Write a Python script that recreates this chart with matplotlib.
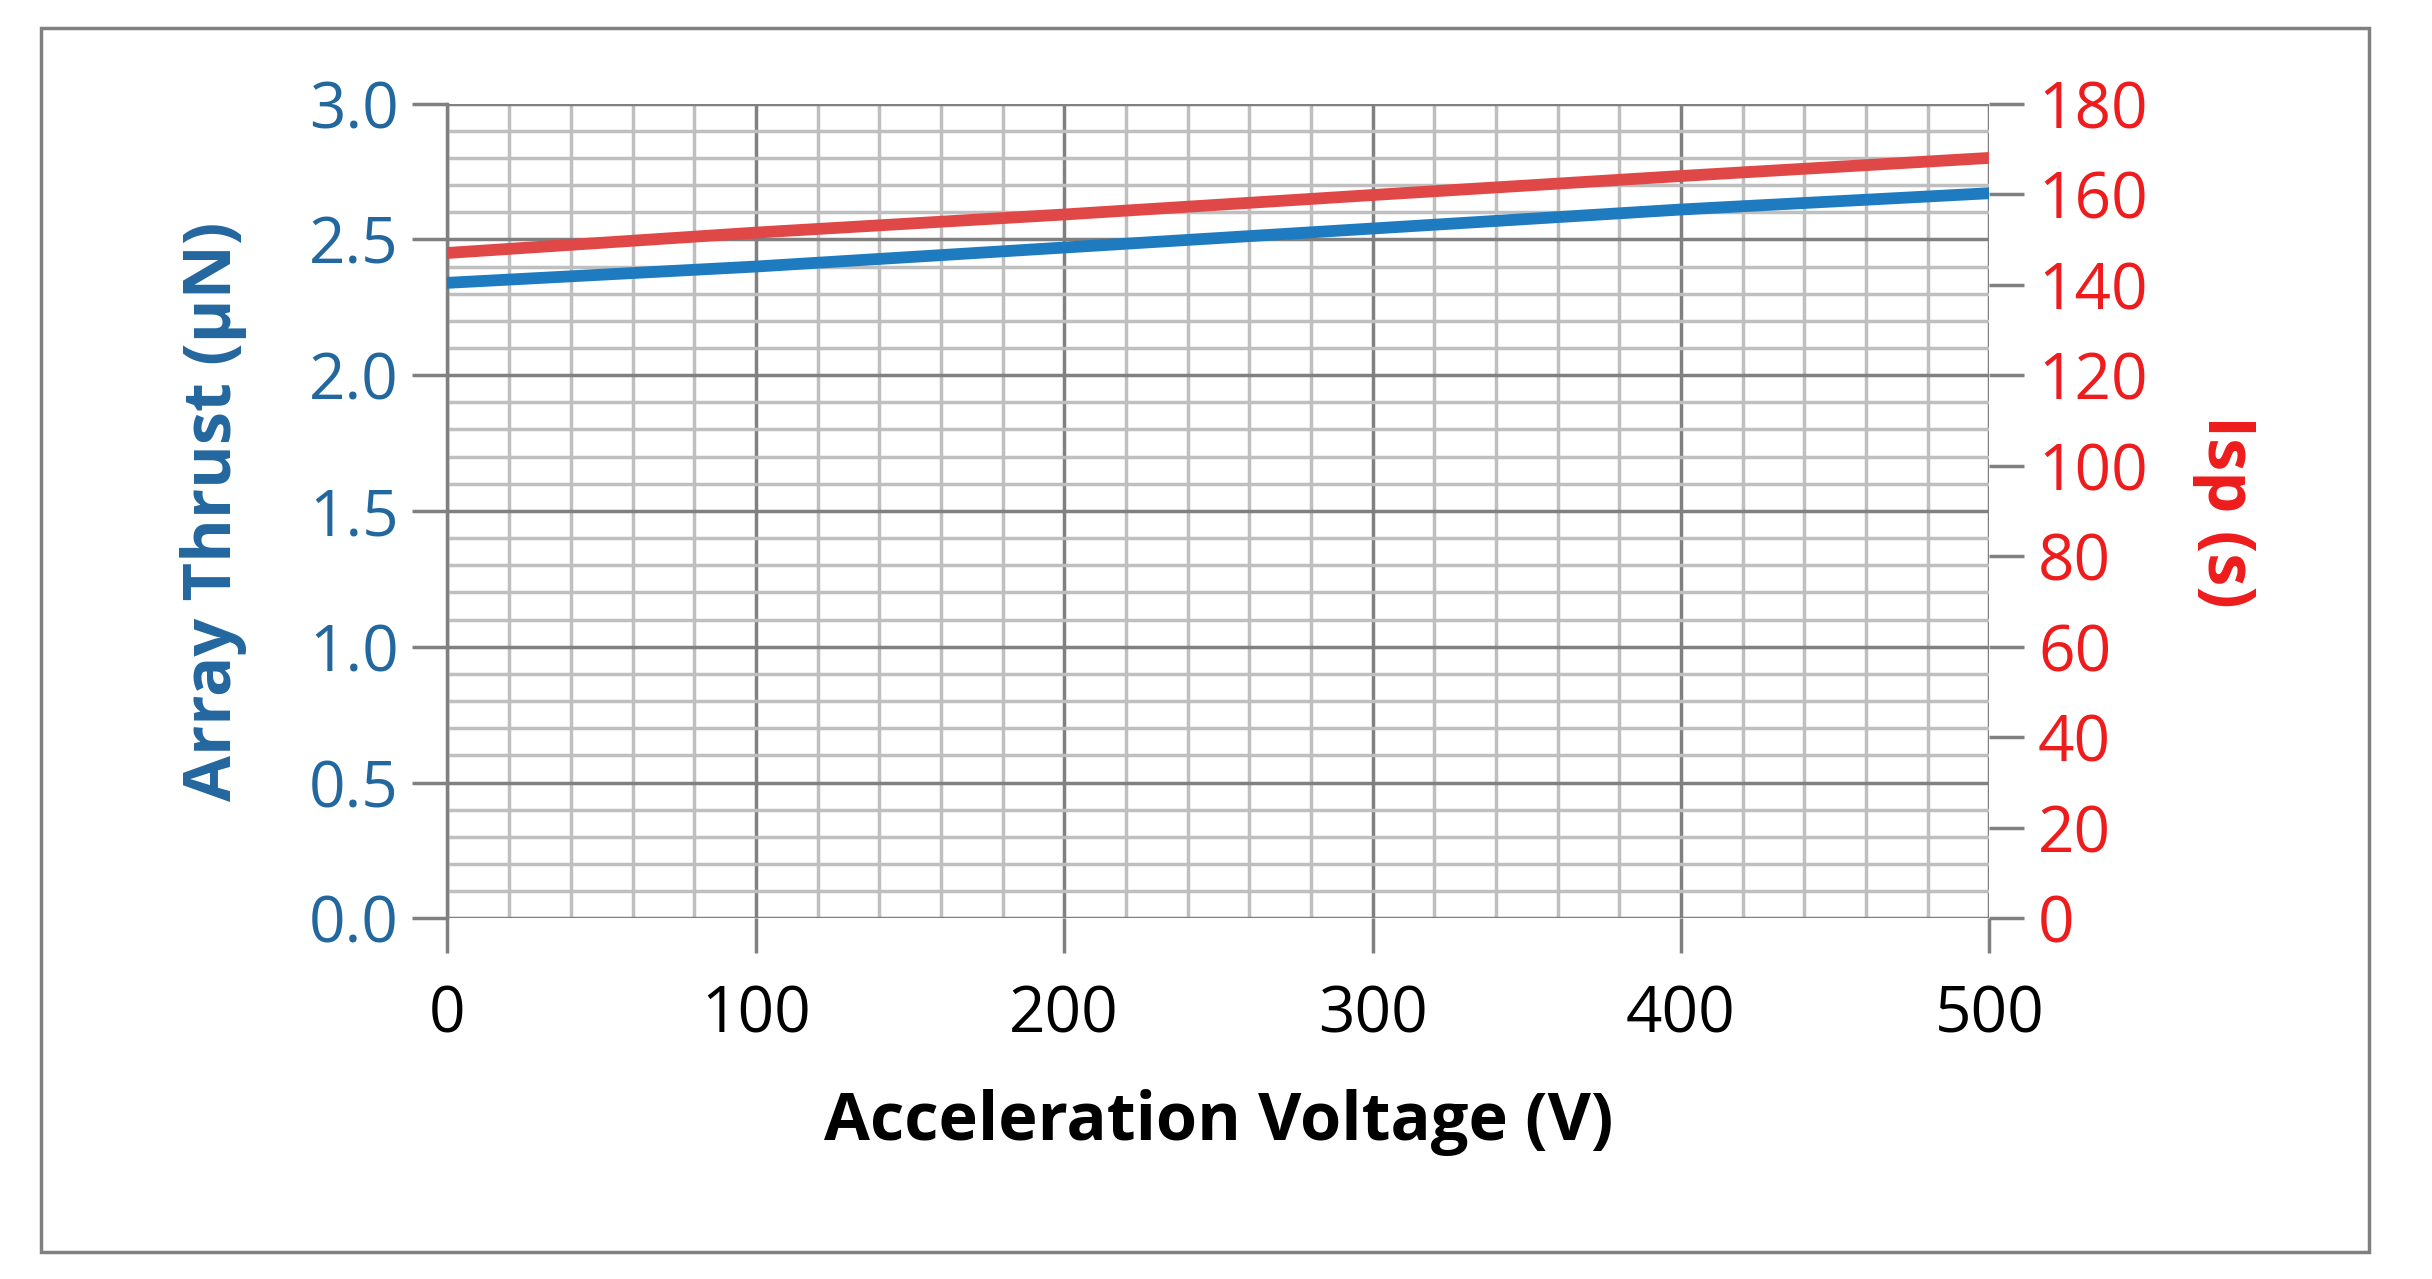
import matplotlib
matplotlib.use("Agg")
import matplotlib.pyplot as plt
from matplotlib.ticker import MultipleLocator
from matplotlib.patches import Rectangle

voltage = [0, 100, 200, 300, 400, 500]
thrust = [2.34, 2.40, 2.47, 2.54, 2.61, 2.67]
isp = [147, 151.5, 155.5, 159.8, 164, 168]

plt.rcParams['font.family'] = ['Open Sans', 'DejaVu Sans']
fig = plt.figure(figsize=(24.32, 12.79), dpi=100)
ax = fig.add_axes([0.184, 0.282, 0.634, 0.637])
ax2 = ax.twinx()

ax.set_xlim(0, 500); ax.set_ylim(0, 3.0)
ax2.set_ylim(0, 180)
ax.xaxis.set_major_locator(MultipleLocator(100)); ax.xaxis.set_minor_locator(MultipleLocator(20))
ax.yaxis.set_major_locator(MultipleLocator(0.5)); ax.yaxis.set_minor_locator(MultipleLocator(0.1))
ax2.yaxis.set_major_locator(MultipleLocator(20))
ax.grid(which='major', color='#808080', lw=2.5)
ax.grid(which='minor', color='#bfbfbf', lw=2.5)
ax.set_axisbelow(True)

ax.plot(voltage, thrust, color='#1f7bc0', lw=8.5, zorder=5)
ax2.plot(voltage, isp, color='#e04848', lw=8.5, zorder=5)

for s in ['top', 'right', 'bottom', 'left']:
    ax.spines[s].set_visible(False); ax2.spines[s].set_visible(False)
ax.spines['left'].set_visible(True); ax.spines['left'].set_color('#808080'); ax.spines['left'].set_linewidth(2.5)

ax.yaxis.set_major_formatter(matplotlib.ticker.FormatStrFormatter('%.1f'))
ax.tick_params(axis='y', which='major', length=25, width=2.5, color='#808080', labelsize=46, labelcolor='#23679f', pad=10)
ax.tick_params(axis='x', which='major', length=25, width=2.5, color='#808080', labelsize=46, labelcolor='black', pad=22)
ax.tick_params(which='minor', length=0)
ax2.tick_params(axis='y', length=25, width=2.5, color='#808080', labelsize=46, labelcolor='#ee1c1c', pad=10)

ax.set_xlabel('Acceleration Voltage (V)', fontsize=48, fontweight='bold', labelpad=30)
ax.set_ylabel('Array Thrust (µN)', fontsize=48, fontweight='bold', color='#23679f', labelpad=45)
ax2.set_ylabel('Isp (s)', fontsize=48, fontweight='bold', color='#ee1c1c', rotation=270, labelpad=80)

fig.patches.append(Rectangle((0.017, 0.021), 0.957, 0.957, transform=fig.transFigure,
                             fill=False, edgecolor='#808080', lw=2.5))
fig.savefig('out.png', dpi=100)
